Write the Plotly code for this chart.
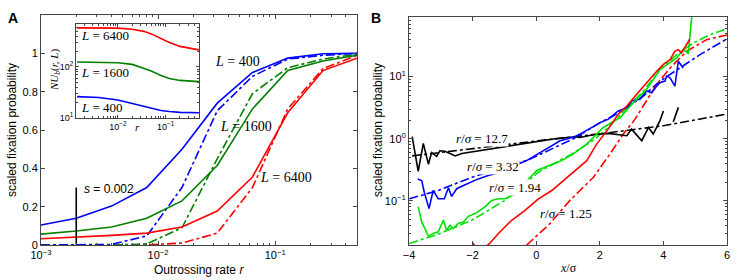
import math
import plotly.graph_objects as go

# ---------------- Panel A data ----------------
r_vals = [0.001, 0.002, 0.004, 0.008, 0.016, 0.032, 0.064, 0.128, 0.256, 0.5]
blue_sim = [0.104, 0.14, 0.203, 0.30, 0.50, 0.74, 0.90, 0.975, 0.998, 1.0]
blue_th = [0.0, 0.0, 0.003, 0.047, 0.30, 0.70, 0.88, 0.97, 0.99, 1.0]
green_sim = [0.057, 0.073, 0.094, 0.14, 0.23, 0.415, 0.71, 0.91, 0.96, 0.99]
green_th = [0.0, 0.0, 0.0, 0.005, 0.09, 0.45, 0.79, 0.925, 0.97, 0.995]
red_sim = [0.033, 0.04, 0.05, 0.062, 0.094, 0.177, 0.355, 0.69, 0.91, 0.975]
red_th = [0.0, 0.0, 0.0, 0.0, 0.01, 0.062, 0.30, 0.71, 0.92, 0.99]
s_value = 0.002
s_line = [0.0, 0.3]

# inset data
r_inset = [0.0014, 0.004, 0.01, 0.02, 0.035, 0.05, 0.08, 0.12, 0.2, 0.5]
inset_6400 = [582, 582, 574, 548, 497, 443, 362, 302, 252, 215]
inset_1600 = [125, 125, 121, 112, 95.6, 83.5, 68, 59.5, 54.4, 51.5]
inset_400 = [26.2, 25.2, 22.5, 19.2, 16.8, 15.3, 14.0, 13.4, 12.9, 12.7]

# tick labels
a_x_ticks = [0.001, 0.01, 0.1]
a_x_text = ["10<sup>−3</sup>", "10<sup>−2</sup>", "10<sup>−1</sup>"]
a_y_ticks = [0, 0.2, 0.4, 0.6, 0.8, 1.0]
a_y_text = ["0", "0.2", "0.4", "0.6", "0.8", "1"]
in_x_ticks = [0.01, 0.1]
in_x_text = ["10<sup>−2</sup>", "10<sup>−1</sup>"]
in_y_ticks = [10, 100]
in_y_text = ["10<sup>1</sup>", "10<sup>2</sup>"]
b_x_ticks = [-4, -2, 0, 2, 4, 6]
b_x_text = ["−4", "−2", "0", "2", "4", "6"]
b_y_ticks = [0.1, 1, 10]
b_y_text = ["10<sup>−1</sup>", "10<sup>0</sup>", "10<sup>1</sup>"]

# ---------------- Panel B data ----------------
blk_x = [-3.90, -3.71, -3.55, -3.39, -3.29, -3.13, -3.03, -2.87, -2.71, -2.55, -2.34, -1.51, -0.46,
         0.59, 1.22, 1.38, 1.79, 2.27, 2.85, 3.00, 3.32, 3.53, 3.68, 3.89, 4.00, None, 4.31, 4.47]
blk_y = [1.08, 0.30, 0.84, 0.39, 0.60, 0.52, 0.64, 0.63, 0.58, 0.53, 0.58, 0.68, 0.82,
         1.0, 1.08, 1.05, 1.16, 1.22, 1.12, 1.43, 0.93, 1.52, 1.19, 1.94, 2.8, None, 1.87, 3.2]
blk_th_x = [-3.9, -2.0, 0.0, 2.0, 4.0, 6.0]
blk_th_y = [0.53, 0.70, 0.92, 1.2, 1.62, 2.5]

blu_x = [-3.73, -3.60, -3.52, -3.37, -3.24, -3.08, -2.89, -2.76, -2.66, -2.50, -2.29, -2.08, -1.82,
         -1.51, -1.24, -0.30, 0.75, 1.22, 1.38, 2.01, 2.27, 2.58, 2.85, 3.00, 3.26, 3.47, 3.63,
         3.79, 3.89, 4.05, 4.10, 4.21, 4.36, 4.47, 4.62]
blu_y = [0.226, 0.213, 0.138, 0.075, 0.147, 0.108, 0.108, 0.163, 0.118, 0.157, 0.177, 0.200, 0.226,
         0.256, 0.279, 0.445, 0.93, 1.08, 1.19, 1.82, 2.07, 2.81, 3.17, 4.06, 4.32, 5.86, 5.5,
         7.05, 7.96, 8.47, 10.2, 9.57, 7.05, 17.7, 13.8]
blu_th_x = [-3.99, -3.08, -2.03, -0.25, 1.22, 2.01, 2.42, 2.85, 3.37, 3.89, 4.52, 5.15, 6.04]
blu_th_y = [0.108, 0.147, 0.24, 0.456, 1.03, 1.82, 2.33, 3.17, 4.87, 8.47, 13.8, 22.6, 41.8]

grn_x = [-3.71, -3.60, -3.39, -3.24, -3.08, -2.92, -2.82, -2.71, -2.61, -2.45, -2.29, -2.14, -1.92,
         -1.61, -1.40, -1.19, -0.98, -0.67, 0.02, 0.38, 0.80, 1.17, 1.59, 2.11, 2.64, 3.05, 3.47,
         3.89, 4.21, 4.42, 4.62, 4.78, 4.92]
grn_y = [0.080, 0.0458, 0.027, 0.030, 0.0317, 0.0488, 0.0337, 0.0406, 0.0359, 0.0432, 0.0458, 0.0565,
         0.0624, 0.080, 0.102, 0.108, 0.108, 0.130, 0.308, 0.37, 0.445, 0.57, 0.82, 1.52, 2.19, 3.81,
         6.24, 13.0, 16.6, 20.0, 27.2, 23.8, 130]
grn_th_x = [-3.99, -3.08, -2.03, -0.98, 0.07, 1.12, 1.80, 2.32, 2.85, 3.37, 3.89, 4.42, 4.94, 5.47, 6.04]
grn_th_y = [0.0207, 0.0291, 0.0488, 0.102, 0.289, 0.57, 0.95, 1.6, 3.17, 5.86, 13.0, 22.6, 34.8, 47.3, 60.4]

red_x = [-2.0, -1.85, -1.6, -1.45, -1.19, -0.77, -0.35, 0.07, 0.49, 0.91, 1.22, 1.59, 1.90, 2.22,
         2.58, 2.85, 3.16, 3.47, 3.79, 4.00, 4.21, 4.36, 4.47, 4.57, 4.83]
red_y = [0.021, 0.017, 0.018, 0.021, 0.0299, 0.0488, 0.0705, 0.108, 0.147, 0.226, 0.308, 0.445, 0.82,
         1.34, 2.48, 3.37, 5.19, 7.96, 12.2, 15.7, 18.8, 25.6, 27.2, 24.0, 40.0]
red_th_x = [-0.30, 0.43, 1.06, 1.80, 2.32, 2.74, 3.11, 3.47, 3.79, 4.21, 4.73, 5.36, 6.04]
red_th_y = [0.0194, 0.043, 0.102, 0.24, 0.57, 1.19, 2.07, 4.06, 7.5, 13.8, 25.6, 39.4, 47.3]

# ---------------- figure ----------------
W, H = 747, 280
BLUE, GREEN_A, RED, BLACK = "#0000ff", "#008000", "#ff0000", "#000000"
GREEN_B = "#00e000"


def px(x):
    return x / W


def py(y):
    return 1 - y / H


fig = go.Figure()
LW = 1.6


def add(x, y, color, dash, xa, ya):
    fig.add_trace(go.Scatter(x=x, y=y, mode="lines", xaxis=xa, yaxis=ya,
                             line=dict(color=color, width=LW, dash=dash),
                             connectgaps=False, showlegend=False, hoverinfo="skip"))


# Panel A
for th, col in ((red_th, RED), (green_th, GREEN_A), (blue_th, BLUE)):
    add(r_vals, th, col, "dashdot", "x", "y")
for sim, col in ((red_sim, RED), (green_sim, GREEN_A), (blue_sim, BLUE)):
    add(r_vals, sim, col, "solid", "x", "y")
add([s_value, s_value], s_line, BLACK, "solid", "x", "y")

# Inset
for vals, col in ((inset_6400, RED), (inset_1600, GREEN_A), (inset_400, BLUE)):
    add(r_inset, vals, col, "solid", "x3", "y3")

# Panel B
add(blk_th_x, blk_th_y, BLACK, "dashdot", "x2", "y2")
add(blu_th_x, blu_th_y, BLUE, "dashdot", "x2", "y2")
add(grn_th_x, grn_th_y, GREEN_B, "dashdot", "x2", "y2")
add(red_th_x, red_th_y, RED, "dashdot", "x2", "y2")
add(blk_x, blk_y, BLACK, "solid", "x2", "y2")
add(blu_x, blu_y, BLUE, "solid", "x2", "y2")
add(grn_x, grn_y, GREEN_B, "solid", "x2", "y2")
add(red_x, red_y, RED, "solid", "x2", "y2")

SANS = "Liberation Sans, Arial, sans-serif"
SERIF = "Liberation Serif, DejaVu Serif, serif"
common = dict(showline=True, linecolor="#444", linewidth=1, mirror="ticks", ticks="inside",
              ticklen=4, tickcolor="#444", showgrid=False, zeroline=False, automargin=False,
              tickmode="array", tickfont=dict(family=SANS, size=11, color="black"))
minor_log = dict(ticks="inside", ticklen=2, tickcolor="#444", showgrid=False, dtick="D1")
small_font = dict(family=SANS, size=9, color="black")

fig.update_layout(
    template="none",
    width=W, height=H, margin=dict(l=0, r=0, t=0, b=0, autoexpand=False),
    paper_bgcolor="white", plot_bgcolor="white", showlegend=False,
    xaxis=dict(common, type="log", range=[-3, math.log10(0.5)], tickvals=a_x_ticks, ticktext=a_x_text,
               domain=[px(41), px(357)], anchor="y", minor=minor_log),
    yaxis=dict(common, range=[0, 1.2], tickvals=a_y_ticks, ticktext=a_y_text,
               domain=[py(245), py(15)], anchor="x"),
    xaxis2=dict(common, range=[-4, 6], tickvals=b_x_ticks, ticktext=b_x_text,
                domain=[px(409), px(727)], anchor="y2"),
    yaxis2=dict(common, type="log", range=[math.log10(0.0195), 1.96], tickvals=b_y_ticks,
                ticktext=b_y_text, domain=[py(245), py(17)], anchor="x2", minor=minor_log),
    xaxis3=dict(common, type="log", range=[math.log10(0.00133), math.log10(0.5)],
                tickvals=in_x_ticks, ticktext=in_x_text,
                domain=[px(76), px(199)], anchor="y3", minor=minor_log,
                tickfont=small_font, ticklen=3),
    yaxis3=dict(common, type="log", range=[1, 2.84], tickvals=in_y_ticks, ticktext=in_y_text,
                domain=[py(118), py(24)], anchor="x3", minor=minor_log,
                tickfont=small_font, ticklen=3),
)

ann = []


def text(x, y, s, size=13, family=SERIF, xanchor="left", angle=0, bg=None):
    d = dict(x=px(x), y=py(y), xref="paper", yref="paper", text=s, showarrow=False,
             xanchor=xanchor, yanchor="middle", textangle=angle,
             font=dict(family=family, size=size, color="black"))
    if bg:
        d["bgcolor"] = bg
        d["borderpad"] = 0
    ann.append(d)


text(13, 18, "<b>A</b>", size=14, family=SANS, xanchor="center")
text(376, 18, "<b>B</b>", size=14, family=SANS, xanchor="center")
text(12, 130, "scaled fixation probability", size=12, family=SANS, xanchor="center", angle=-90)
text(378, 130, "scaled fixation probability", size=12, family=SANS, xanchor="center", angle=-90)
text(199, 270, "Outrossing rate <i>r</i>", size=12, family=SANS, xanchor="center")
text(568, 268, "<i>x</i>/σ", size=12, family=SERIF, xanchor="center")
text(82, 189, "<i>s</i> = 0.002", size=12, family=SANS)
text(213, 61, "<i>L</i> = 400", size=14)
text(218, 127, "<i>L</i> = 1600", size=14)
text(258, 177, "<i>L</i> = 6400", size=14)
text(79, 35, "<i>L</i> = 6400", size=13)
text(79, 72, "<i>L</i> = 1600", size=13)
text(79, 108, "<i>L</i> = 400", size=13)
text(137, 127, "<i>r</i>", size=11, xanchor="center")
text(55, 70, "<i>NU</i><sub><i>b</i></sub>(<i>r, L</i>)", size=11, xanchor="center", angle=-90)
text(455, 138, "<i>r</i>/<i>σ</i> = 12.7", size=13, bg="white")
text(466, 166, "<i>r</i>/<i>σ</i> = 3.32", size=13, bg="white")
text(488, 187, "<i>r</i>/<i>σ</i> = 1.94", size=13, bg="white")
text(538, 213, "<i>r</i>/<i>σ</i> = 1.25", size=13)
fig.update_layout(annotations=ann)

fig.write_html("out.html", config={"displayModeBar": False},
               post_script="document.body.style.margin='0';document.body.style.overflow='hidden';")
